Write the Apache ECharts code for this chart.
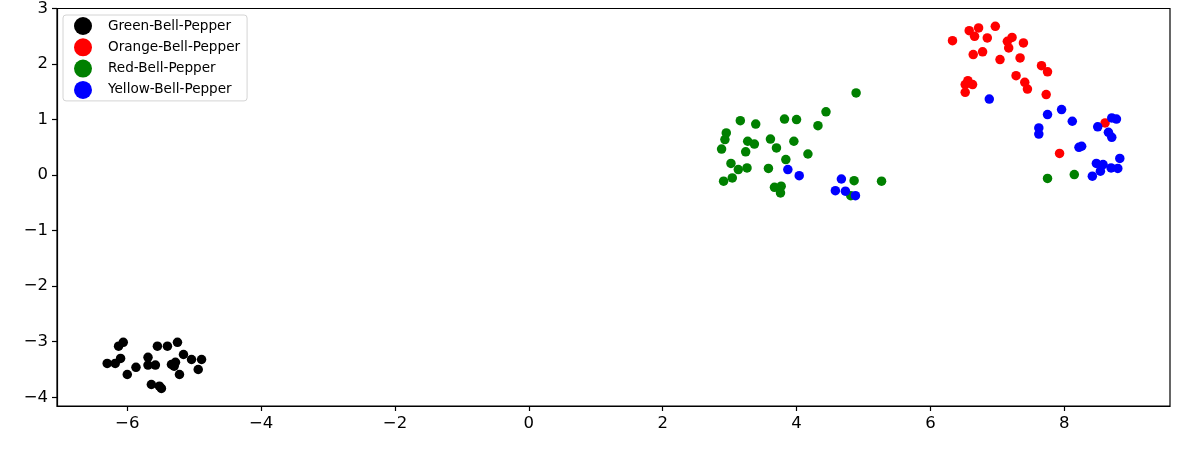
<!DOCTYPE html>
<html>
<head>
<meta charset="utf-8">
<script src="https://cdn.jsdelivr.net/npm/echarts@6/dist/echarts.min.js"></script>
<style>
  html, body { margin: 0; padding: 0; background: #fff; }
  #main { width: 1182px; height: 460px; }
</style>
</head>
<body>
<div id="main"></div>
<script>
// embedding clusters, one list of [x, y] per class
var seriesNames = ['Green-Bell-Pepper', 'Orange-Bell-Pepper', 'Red-Bell-Pepper', 'Yellow-Bell-Pepper'];
var seriesColors = ['#000000', '#ff0000', '#008000', '#0000ff'];

var greenPts = [
  [-6.30, -3.39], [-6.18, -3.39], [-6.10, -3.30], [-6.13, -3.08], [-6.06, -3.01],
  [-6.00, -3.59], [-5.87, -3.46], [-5.69, -3.28], [-5.69, -3.42], [-5.58, -3.42],
  [-5.55, -3.08], [-5.40, -3.08], [-5.25, -3.01], [-5.16, -3.23], [-5.04, -3.32],
  [-4.89, -3.32], [-4.94, -3.50], [-5.34, -3.41], [-5.28, -3.37], [-5.30, -3.44],
  [-5.22, -3.59], [-5.64, -3.77], [-5.49, -3.84], [-5.52, -3.80]
];
var orangePts = [
  [6.33, 2.42], [6.58, 2.60], [6.72, 2.65], [6.66, 2.50], [6.97, 2.68],
  [6.85, 2.47], [6.64, 2.17], [6.78, 2.22], [7.22, 2.48], [7.15, 2.41],
  [7.17, 2.29], [7.39, 2.38], [7.04, 2.08], [7.34, 2.11], [7.66, 1.97],
  [7.75, 1.86], [7.28, 1.79], [7.41, 1.67], [7.45, 1.55], [6.56, 1.70],
  [6.52, 1.63], [6.63, 1.63], [6.52, 1.49], [7.73, 1.45], [8.61, 0.94],
  [7.93, 0.39]
];
var redPts = [
  [4.89, 1.48], [4.44, 1.14], [4.32, 0.89], [3.16, 0.98], [3.39, 0.92],
  [3.82, 1.01], [4.00, 1.00], [2.95, 0.76], [2.93, 0.64], [2.88, 0.47],
  [3.27, 0.61], [3.37, 0.56], [3.61, 0.65], [3.70, 0.49], [3.96, 0.61],
  [3.24, 0.42], [4.17, 0.38], [3.84, 0.28], [3.02, 0.21], [3.13, 0.10],
  [3.26, 0.13], [3.58, 0.12], [3.04, -0.05], [2.91, -0.11], [3.67, -0.22],
  [3.77, -0.20], [3.76, -0.32], [4.86, -0.10], [5.27, -0.11], [4.81, -0.37],
  [7.75, -0.06], [8.15, 0.01]
];
var yellowPts = [
  [3.87, 0.10], [4.04, -0.01], [4.67, -0.07], [4.58, -0.28], [4.73, -0.29],
  [4.88, -0.37], [6.88, 1.37], [7.75, 1.09], [7.96, 1.18], [8.12, 0.97],
  [7.62, 0.85], [7.62, 0.74], [8.50, 0.87], [8.71, 1.03], [8.78, 1.01],
  [8.66, 0.77], [8.71, 0.68], [8.22, 0.50], [8.26, 0.52], [8.83, 0.30],
  [8.48, 0.21], [8.58, 0.19], [8.54, 0.07], [8.70, 0.13], [8.80, 0.12],
  [8.42, -0.02]
];
var xTicks = [-6, -4, -2, 0, 2, 4, 6, 8];
var yTicks = [-4, -3, -2, -1, 0, 1, 2, 3];

var allPts = [greenPts, orangePts, redPts, yellowPts];

var myChart = echarts.init(document.getElementById('main'));

function minusFmt(v) {
  return String(v).replace('-', '\u2212');
}

var font = 'DejaVu Sans';

var series = seriesNames.map(function (name, i) {
  return {
    name: name,
    type: 'scatter',
    data: allPts[i],
    symbol: 'circle',
    symbolSize: 9.5,
    itemStyle: { color: seriesColors[i], opacity: 1 },
    emphasis: { disabled: true },
    animation: false
  };
});

var option = {
  animation: false,
  textStyle: { fontFamily: font },
  grid: {
    left: 57, right: 12, top: 8, bottom: 54,
    show: true,
    borderColor: '#000',
    borderWidth: 1.2,
    backgroundColor: '#fff'
  },
  legend: {
    data: seriesNames.map(function (n, i) {
      return { name: n, icon: 'circle', itemStyle: { color: seriesColors[i] } };
    }),
    orient: 'vertical',
    left: 63,
    top: 15,
    itemWidth: 18,
    itemHeight: 18,
    itemGap: 3.3,
    padding: [2, 7, 2, 11],
    borderColor: '#d4d4d4',
    borderWidth: 1,
    borderRadius: 3,
    backgroundColor: 'rgba(255,255,255,0.8)',
    textStyle: { fontFamily: font, fontSize: 13.6, color: '#000', padding: [0, 0, 0, 11] },
    selectedMode: false
  },
  xAxis: {
    type: 'value',
    min: -7.05,
    max: 9.58,
    axisLine: { show: true, onZero: false, lineStyle: { color: '#000', width: 1.2 } },
    axisTick: { show: true, length: 5, lineStyle: { color: '#000', width: 1.2 }, customValues: xTicks },
    axisLabel: { color: '#000', fontSize: 16.5, fontFamily: font, margin: 9, customValues: xTicks, formatter: minusFmt },
    splitLine: { show: false }
  },
  yAxis: {
    type: 'value',
    min: -4.157,
    max: 3.0,
    axisLine: { show: true, onZero: false, lineStyle: { color: '#000', width: 1.2 } },
    axisTick: { show: true, length: 5, lineStyle: { color: '#000', width: 1.2 }, customValues: yTicks },
    axisLabel: { color: '#000', fontSize: 16.5, fontFamily: font, margin: 9, customValues: yTicks, formatter: minusFmt },
    splitLine: { show: false }
  },
  series: series
};

myChart.setOption(option);
</script>
</body>
</html>
